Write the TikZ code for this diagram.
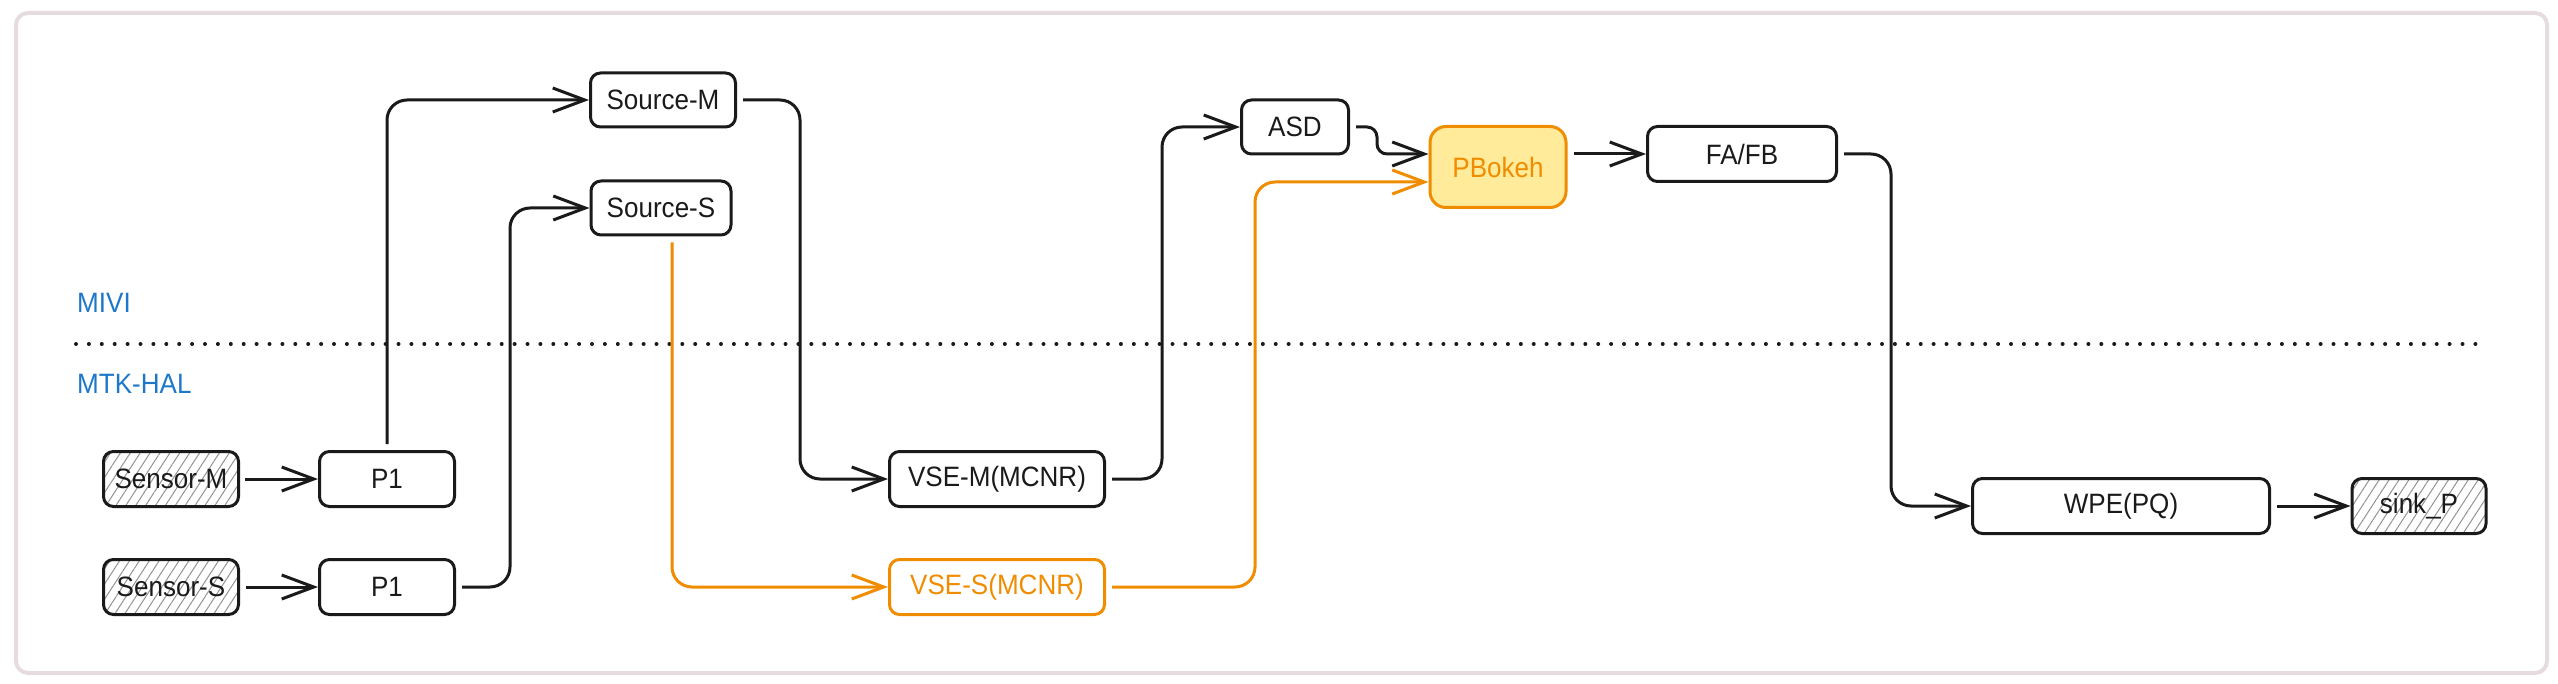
\documentclass[tikz,border=0pt]{standalone}
\usepackage{fontspec}
\setmainfont{Liberation Sans}[FakeStretch=0.93]
\usetikzlibrary{arrows.meta,patterns.meta}
\definecolor{ink}{HTML}{1A1A1A}
\definecolor{orng}{HTML}{F08C00}
\definecolor{yel}{HTML}{FFEB99}
\definecolor{bluetxt}{HTML}{1E77C8}
\definecolor{framecol}{HTML}{E6DCE0}
\tikzset{
  box/.style={draw=ink, line width=3pt, rounded corners=10pt, minimum height=55pt, inner sep=0pt,
     text=ink, font=\fontsize{28pt}{32pt}\selectfont},
  obox/.style={box, draw=orng, text=orng},
  hatchbox/.style={box, pattern={Lines[angle=57,distance=8.3pt,line width=1pt]}, pattern color=gray!85},
  conn/.style={draw=ink, line width=3pt, rounded corners=20pt, shorten <=6pt,
     -{Straight Barb[length=32pt,width=24pt]}},
  oconn/.style={conn, draw=orng},
  lbl/.style={text=bluetxt, font=\fontsize{28pt}{32pt}\selectfont, inner sep=0pt}
}
\begin{document}
\begin{tikzpicture}[x=1pt,y=-1pt]
\useasboundingbox (0,0) rectangle (2558,684);
\draw[framecol, line width=4pt, rounded corners=12pt] (16,13) rectangle (2547,673);

% layer labels and separator
\node[lbl, anchor=base west] (mivi) at (77,313) {MIVI};
\node[lbl, anchor=base west] (mtk) at (77,393) {MTK-HAL};
\coordinate (sepL) at (76,344);
\coordinate (sepR) at (2486,344);
\draw[ink, line width=4pt, line cap=round, dash pattern=on 0pt off 12.9pt] (sepL) -- (sepR);

% nodes
\node[hatchbox, minimum width=135pt] (sensM) at (171,479) {Sensor-M};
\node[hatchbox, minimum width=135pt] (sensS) at (171,587) {Sensor-S};
\node[box, minimum width=135pt] (p1a) at (387,479) {P1};
\node[box, minimum width=135pt] (p1b) at (387,587) {P1};
\node[box, minimum width=145pt, minimum height=54pt] (srcM) at (663,100) {Source-M};
\node[box, minimum width=140pt, minimum height=54pt] (srcS) at (661,208) {Source-S};
\node[box, minimum width=215pt] (vseM) at (997,479) {VSE-M(MCNR)};
\node[obox, minimum width=215pt] (vseS) at (997,587) {VSE-S(MCNR)};
\node[box, minimum width=107pt, minimum height=54pt] (asd) at (1295,127) {ASD};
\node[obox, fill=yel, minimum width=136pt, minimum height=81pt, rounded corners=16pt] (pbokeh) at (1498,167) {PBokeh};
\node[box, minimum width=189pt] (fafb) at (1742,154) {FA/FB};
\node[box, minimum width=297pt] (wpe) at (2121,506) {WPE(PQ)};
\node[hatchbox, minimum width=134pt] (sink) at (2419,506) {sink\_P};

% connectors
\draw[conn] (sensM.east) -- (p1a.west);
\draw[conn] (sensS.east) -- (p1b.west);
\draw[conn] (p1a.north) |- (srcM.west);
\draw[conn] (p1b.east) -- ++(54,0) |- (srcS.west);
\draw[oconn] ([xshift=11pt]srcS.south) |- (vseS.west);
\draw[conn] (srcM.east) -- ++(63,0) |- (vseM.west);
\draw[conn] (vseM.east) -- ++(56,0) |- (asd.west);
\draw[conn, rounded corners=10pt] (asd.east) -- ++(27,0) |- ([yshift=13pt]pbokeh.west);
\draw[oconn] (vseS.east) -- ++(149,0) |- ([yshift=-15pt]pbokeh.west);
\draw[conn] ([yshift=13pt]pbokeh.east) -- (fafb.west);
\draw[conn] (fafb.east) -- ++(53,0) |- (wpe.west);
\draw[conn] (wpe.east) -- (sink.west);
\end{tikzpicture}
\end{document}
